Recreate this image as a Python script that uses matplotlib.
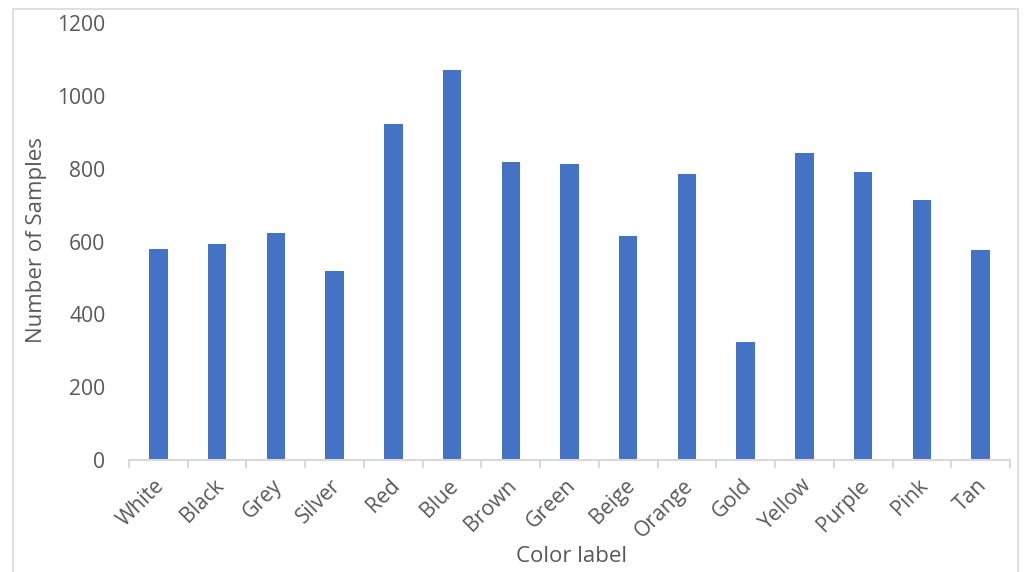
import matplotlib
matplotlib.use("Agg")
import matplotlib.pyplot as plt
from matplotlib.patches import Rectangle

categories = ["White", "Black", "Grey", "Silver", "Red", "Blue", "Brown", "Green",
              "Beige", "Orange", "Gold", "Yellow", "Purple", "Pink", "Tan"]
samples = [581, 593, 623, 520, 924, 1073, 819, 813, 615, 787, 324, 844, 791, 714, 576]
y_ticks = [0, 200, 400, 600, 800, 1000, 1200]

W, H = 1032, 572
bar_color = "#4472C4"
text_color = "#595959"
line_color = "#D9D9D9"

plt.rcParams["font.family"] = ["Open Sans", "DejaVu Sans"]

fig = plt.figure(figsize=(W / 100, H / 100), dpi=100)

# chart border
fig.patches.append(Rectangle((13 / W, -0.05), (1018 - 13) / W, 1.05 - 9 / H,
                             transform=fig.transFigure, fill=False,
                             edgecolor=line_color, linewidth=1.2))

left, right = 129 / W, 1010 / W
bottom, top = 1 - 460 / H, 1 - 23.3 / H
ax = fig.add_axes([left, bottom, right - left, top - bottom])

x = range(len(categories))
ax.bar(x, samples, width=0.315, color=bar_color, zorder=2)

ax.set_xlim(-0.5, len(categories) - 0.5)
ax.set_ylim(0, 1200)
ax.set_yticks(y_ticks)
ax.set_yticklabels([str(v) for v in y_ticks], fontsize=15.2, color=text_color)
ax.tick_params(axis="y", length=0, pad=17)

for s in ["top", "right", "left"]:
    ax.spines[s].set_visible(False)
ax.spines["bottom"].set_color(line_color)
ax.spines["bottom"].set_linewidth(1.5)

# category boundary ticks on the x axis
ax.set_xticks([i - 0.5 for i in range(len(categories) + 1)])
ax.set_xticklabels([])
ax.tick_params(axis="x", length=6, width=1.5, color=line_color, direction="out")

for i, name in enumerate(categories):
    ax.annotate(name, xy=(i, 0), xycoords=("data", "axes fraction"),
                xytext=(-3, -11), textcoords="offset points",
                rotation=45, ha="right", va="top", rotation_mode="anchor",
                fontsize=15.2, color=text_color)

fig.text((517 + 627) / 2 / W, 1 - 556 / H, "Color label", ha="center", va="center",
         fontsize=16, color=text_color)
fig.text(37 / W, 1 - 240 / H, "Number of Samples", ha="center", va="center",
         rotation=90, fontsize=16, color=text_color)

fig.savefig("out.png", dpi=100)
